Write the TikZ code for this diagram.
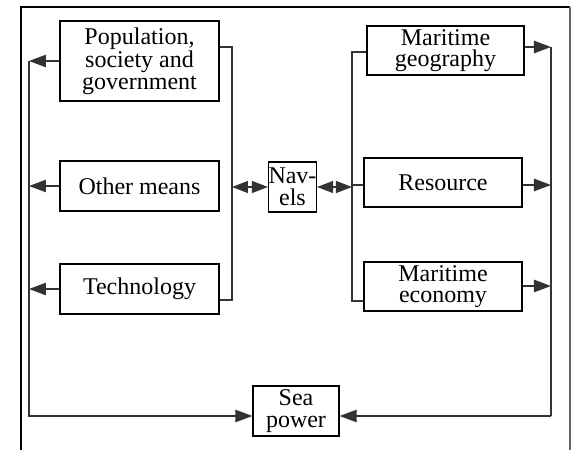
\documentclass[tikz,border=0pt]{standalone}
\usepackage{fontspec}
\setmainfont{Liberation Serif}
\usetikzlibrary{arrows.meta}
\tikzset{
  box/.style={draw=black, line width=0.6pt, inner sep=0pt, align=center,
    font=\fontsize{12}{10.8}\selectfont},
  conn/.style={draw=black!80, line width=0.55pt},
  arr/.style={conn, -{Triangle[length=8.5pt,width=6.2pt]}},
  darr/.style={conn, {Triangle[length=8pt,width=6pt]}-{Triangle[length=8pt,width=6pt]}},
}
\begin{document}
\begin{tikzpicture}[x=0.5pt,y=-0.5pt]
\useasboundingbox (0,0) rectangle (575,450);
% frame
\draw[black, line width=0.6pt] (21,450) -- (21,7) -- (570,7);
\draw[black!60, line width=0.8pt] (570,7) -- (570,450);
% nodes
\node[box, minimum width=79.5pt, minimum height=40pt] (pop) at (139.5,61) {Population,\\society and\\government};
\node[box, minimum width=79.5pt, minimum height=25pt] (other) at (139.5,186) {Other means};
\node[box, minimum width=79.5pt, minimum height=25pt] (tech) at (139.5,289) {Technology};
\node[box, minimum width=23.5pt, minimum height=25pt] (nav) at (292.5,187) {Nav-\\els};
\node[box, minimum width=78.5pt, minimum height=24.5pt] (geo) at (445.5,50.5) {Maritime\\geography};
\node[box, minimum width=79pt, minimum height=24.5pt] (res) at (443,182.5) {Resource};
\node[box, minimum width=79pt, minimum height=24.5pt] (econ) at (443,286.5) {Maritime\\economy};
\node[box, minimum width=43pt, minimum height=25pt] (sea) at (296,411) {Sea\\power};
% coordinates
\coordinate (lt) at (29,61);
\coordinate (lb) at (29,416);
\coordinate (rt) at (551,47);
\coordinate (rb) at (551,416);
\coordinate (lbr) at (232,187);
\coordinate (rbr) at (352,187);
% left side
\draw[conn] (lt) -- (lb) -- ++(100,0);
\draw[arr] (lb) -- (sea.west |- lb);
\draw[arr] (pop.west) -- (lt);
\draw[arr] (other.west) -- (other.west -| lt);
\draw[arr] (tech.west) -- (tech.west -| lt);
\draw[conn] (pop.east |- 0,47) -| (232,300) -- (tech.east |- 0,300);
\draw[darr] (lbr) -- (nav.west |- lbr);
% right side
\draw[darr] (nav.east |- rbr) -- (rbr);
\draw[conn] (geo.west |- 0,52) -| (352,301) -- (econ.west |- 0,301);
\draw[conn] (352,185) -- (res.west |- 0,185);
\draw[arr] (geo.east |- rt) -- (rt);
\draw[arr] (res.east |- 0,185) -- (551,185);
\draw[arr] (econ.east |- 0,286) -- (551,286);
\draw[conn] (rt) -- (rb);
\draw[arr] (rb) -- (sea.east |- rb);
\end{tikzpicture}
\end{document}
